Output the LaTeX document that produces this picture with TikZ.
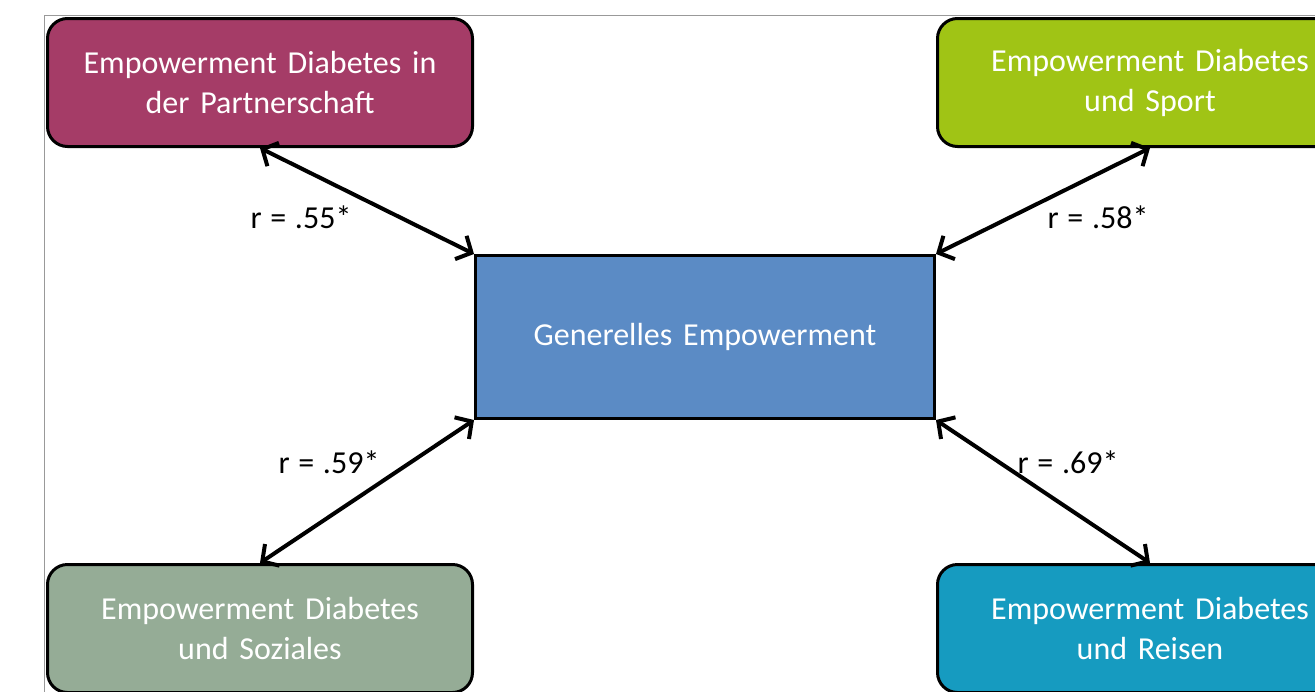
\documentclass[tikz,border=0pt]{standalone}
\usepackage{fontspec}
\setmainfont{Carlito}[WordSpace=1.5]
\newfontfamily\corrfont{Carlito}[WordSpace=1.2]
\usetikzlibrary{arrows.meta,positioning}

\definecolor{partnerc}{HTML}{A53C67}
\definecolor{sportc}{HTML}{A0C415}
\definecolor{sozialc}{HTML}{95AC96}
\definecolor{reisenc}{HTML}{169BC0}
\definecolor{generalc}{HTML}{5B8BC5}

\tikzset{
  box/.style={draw=black, line width=3pt, rounded corners=20pt, minimum width=425pt,
    minimum height=128pt, align=center, text=white},
  corr/.style={text=black, font=\corrfont\fontsize{32}{40}\selectfont}
}

\begin{document}
\begin{tikzpicture}[x=1pt, y=-1pt, <->, >={Straight Barb[length=12pt,width=26pt]},
  every node/.style={font=\fontsize{32}{40}\selectfont}]
\clip[use as bounding box] (0,0) rectangle (1315,691);
\draw[-, gray!80, line width=1pt] (44,15) rectangle (1400,800);
\node[draw=black, line width=3pt, fill=generalc, text=white, minimum width=459pt,
  minimum height=163pt](gen) at (705,337){Generelles Empowerment};
\node[box, fill=partnerc, above=106pt of gen.north west, anchor=south east](partner)
  {Empowerment Diabetes in\\der Partnerschaft};
\node[box, fill=sportc, above=106pt of gen.north east, anchor=south west](sport)
  {Empowerment Diabetes\\und Sport};
\node[box, fill=sozialc, below=143pt of gen.south west, anchor=north east](sozial)
  {Empowerment Diabetes\\und Soziales};
\node[box, fill=reisenc, below=143pt of gen.south east, anchor=north west](reisen)
  {Empowerment Diabetes\\und Reisen};
% correlations
\draw[line width=4pt] (partner.south) -- (gen.north west);
\draw[line width=4pt] (sport.south) -- (gen.north east);
\draw[line width=4pt] (sozial.north) -- (gen.south west);
\draw[line width=4pt] (reisen.north) -- (gen.south east);
\node[corr](r1) at (301,217){r = .55*};
\node[corr](r2) at (1098,217){r = .58*};
\node[corr](r3) at (329,462){r = .59*};
\node[corr](r4) at (1068,462){r = .69*};
\end{tikzpicture}
\end{document}
